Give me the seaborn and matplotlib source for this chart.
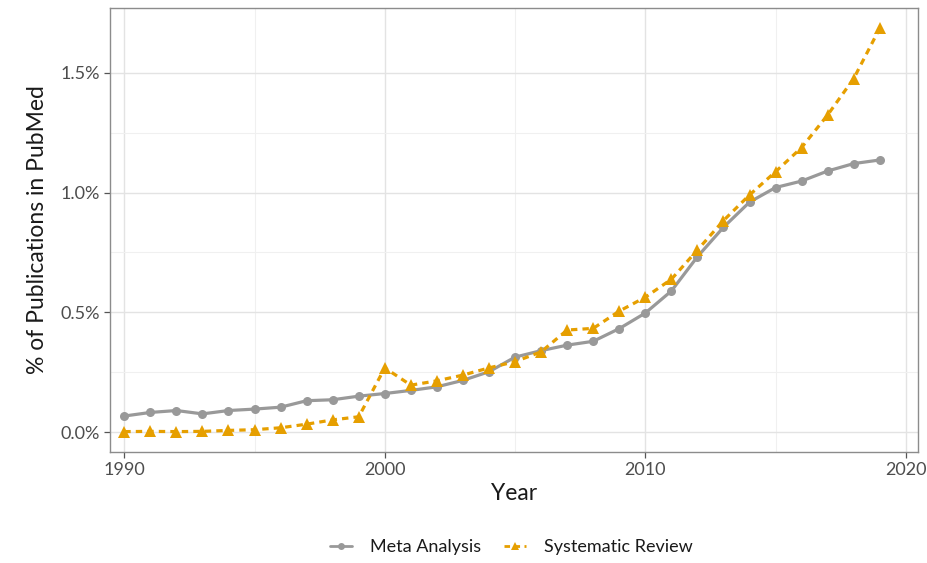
import numpy as np
import pandas as pd
import matplotlib
matplotlib.use("Agg")
import matplotlib.pyplot as plt
from matplotlib.ticker import FixedLocator, FuncFormatter
import seaborn as sns

years = list(range(1990, 2020))
meta_analysis = [0.067, 0.082, 0.090, 0.076, 0.090, 0.096, 0.104, 0.131, 0.135, 0.150,
                 0.161, 0.174, 0.189, 0.216, 0.252, 0.313, 0.340, 0.363, 0.379, 0.432,
                 0.497, 0.589, 0.732, 0.855, 0.960, 1.021, 1.048, 1.090, 1.121, 1.136]
systematic_review = [0.002, 0.003, 0.002, 0.003, 0.007, 0.010, 0.018, 0.033, 0.051, 0.064,
                     0.268, 0.196, 0.214, 0.238, 0.268, 0.294, 0.335, 0.426, 0.433, 0.505,
                     0.563, 0.638, 0.760, 0.883, 0.990, 1.087, 1.188, 1.324, 1.476, 1.686]
series_names = ["Meta Analysis", "Systematic Review"]
y_ticks = [0.0, 0.5, 1.0, 1.5]
x_ticks = [1990, 2000, 2010, 2020]

df = pd.DataFrame({
    "Year": years * 2,
    "Pct": meta_analysis + systematic_review,
    "Type": [series_names[0]] * len(years) + [series_names[1]] * len(years),
})

sns.set_theme(style="white")
plt.rcParams["font.family"] = ["Lato", "DejaVu Sans"]

fig = plt.figure(figsize=(9.28, 5.63), dpi=100)
ax = fig.add_axes([0.1185, 0.197, 0.8705, 0.789])

palette = {series_names[0]: "#999999", series_names[1]: "#E69F00"}
sns.lineplot(
    data=df, x="Year", y="Pct", hue="Type", style="Type",
    palette=palette,
    markers={series_names[0]: "o", series_names[1]: "^"},
    dashes={series_names[0]: "", series_names[1]: (2.0, 1.6)},
    linewidth=2.3, markersize=6.5, markeredgewidth=0,
    ax=ax, legend=True,
)

# Triangles a little larger than circles
for line in ax.get_lines():
    if line.get_marker() == "^":
        line.set_markersize(8)

ax.set_xlim(1989.45, 2020.46)
ax.set_ylim(-0.0835, 1.771)

ax.xaxis.set_major_locator(FixedLocator(x_ticks))
ax.xaxis.set_minor_locator(FixedLocator([1995, 2005, 2015]))
ax.yaxis.set_major_locator(FixedLocator(y_ticks))
ax.yaxis.set_minor_locator(FixedLocator([0.25, 0.75, 1.25]))
ax.yaxis.set_major_formatter(FuncFormatter(lambda v, p: f"{v:.1f}%"))

ax.grid(True, which="major", color="#e3e3e3", linewidth=1.0)
ax.grid(True, which="minor", color="#f0f0f0", linewidth=0.8)
ax.set_axisbelow(True)

for s in ax.spines.values():
    s.set_color("#8c8c8c")
    s.set_linewidth(1.0)

ax.tick_params(axis="both", which="major", length=4, width=0.9, color="#555555",
               labelsize=13, labelcolor="#4d4d4d", pad=3, direction="out",
               bottom=True, left=True)
ax.tick_params(axis="both", which="minor", length=0)

ax.set_xlabel("Year", fontsize=16.5, color="#1a1a1a", labelpad=4)
ax.set_ylabel("% of Publications in PubMed", fontsize=16.5, color="#1a1a1a", labelpad=9)

handles, labels = ax.get_legend_handles_labels()
ax.get_legend().remove()
for h in handles:
    h.set_linewidth(2.0)
    h.set_markersize(6 if h.get_marker() == "^" else 5)
fig.legend(handles, labels, loc="center", bbox_to_anchor=(0.551, 0.028), ncol=2,
           frameon=False, fontsize=13, handlelength=1.2, columnspacing=1.3,
           handletextpad=1.0, labelcolor="#1a1a1a")

fig.savefig("out.png", dpi=100)
